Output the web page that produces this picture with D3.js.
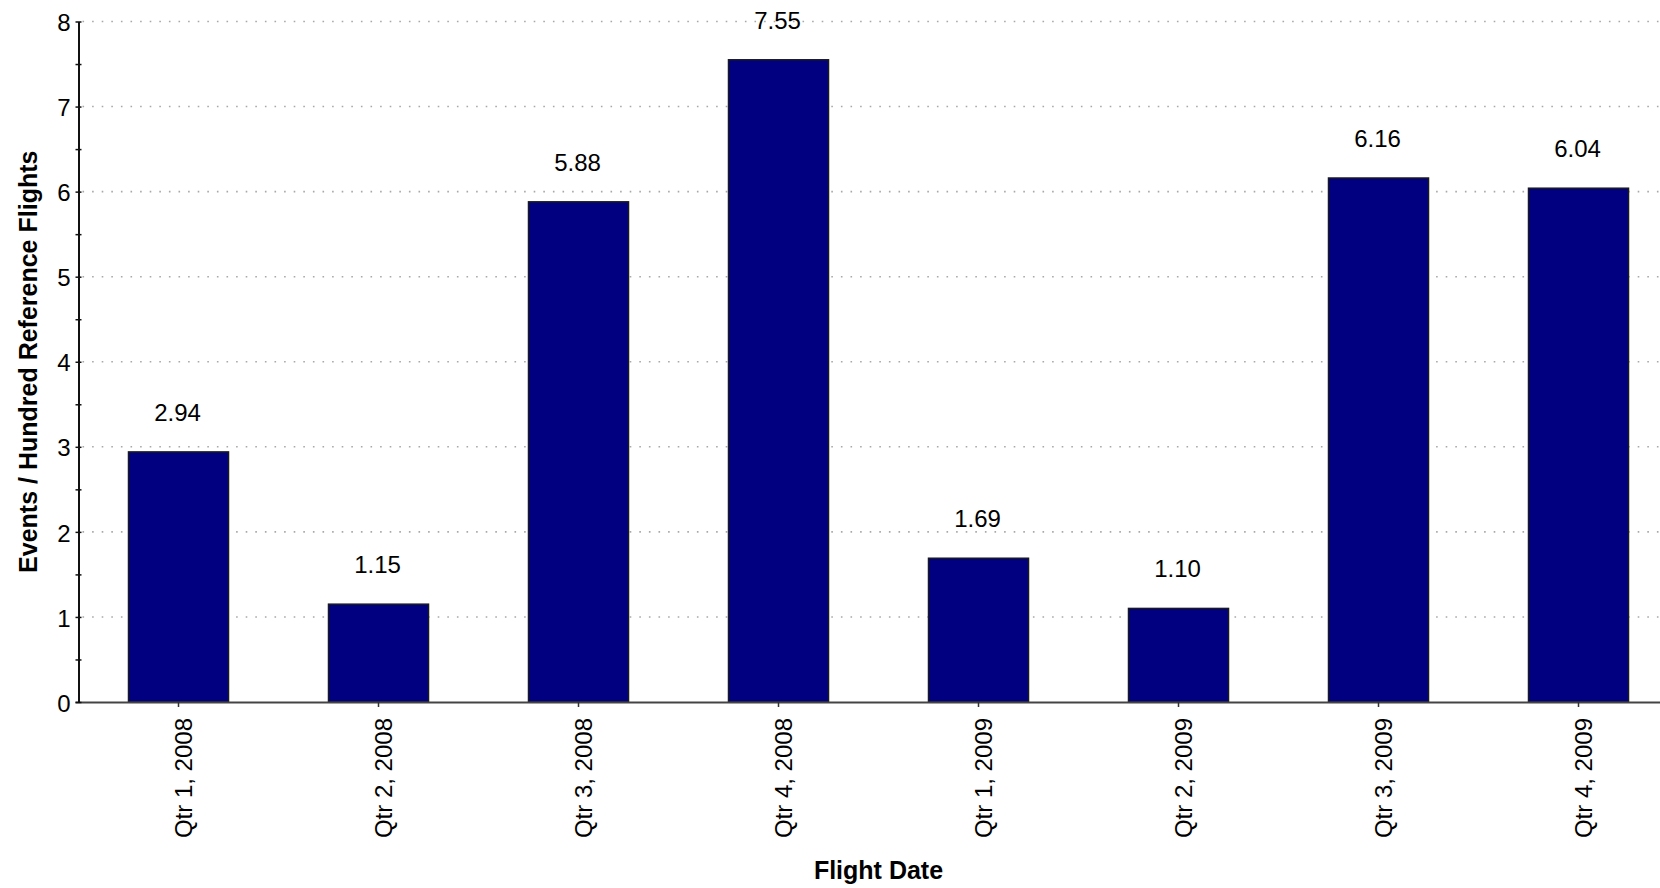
<!DOCTYPE html>
<html>
<head>
<meta charset="utf-8">
<script src="https://cdn.jsdelivr.net/npm/d3@7"></script>
<style>
  html, body { margin: 0; padding: 0; background: #ffffff; }
  svg { display: block; }
  text { font-family: Arial, "Liberation Sans", sans-serif; fill: #000; }
</style>
</head>
<body>
<svg id="chart" width="1660" height="888"></svg>
<script>
// Quarterly event rates
const quarters = ["Qtr 1, 2008", "Qtr 2, 2008", "Qtr 3, 2008", "Qtr 4, 2008",
                  "Qtr 1, 2009", "Qtr 2, 2009", "Qtr 3, 2009", "Qtr 4, 2009"];
const rates = [2.94, 1.15, 5.88, 7.55, 1.69, 1.10, 6.16, 6.04];
const yTicks = [0, 1, 2, 3, 4, 5, 6, 7, 8];
const yMinorTicks = [0.5, 1.5, 2.5, 3.5, 4.5, 5.5, 6.5, 7.5];
const xTitle = "Flight Date";
const yTitle = "Events / Hundred Reference Flights";

(function () {
  const svg = d3.select("#chart");
  const W = 1660;
  const mLeft = 78.5, mTop = 21.5, mBottom = 702;
  const plotRight = mLeft + 200 * quarters.length;

  const x = d3.scaleBand().domain(quarters).range([mLeft, plotRight]).paddingInner(0.5).paddingOuter(0.25);
  const y = d3.scaleLinear().domain([0, 8]).range([mBottom, mTop]);

  // dotted gridlines
  svg.append("g").selectAll("line")
    .data(yTicks.filter(d => d > 0))
    .join("line")
    .attr("x1", mLeft + 4).attr("x2", W)
    .attr("y1", d => y(d)).attr("y2", d => y(d))
    .attr("stroke", "#a8a8a8").attr("stroke-width", 1.6)
    .attr("stroke-dasharray", "1.6,8");

  // bars
  svg.append("g").selectAll("rect")
    .data(rates)
    .join("rect")
    .attr("x", (d, i) => x(quarters[i]))
    .attr("y", d => y(d))
    .attr("width", x.bandwidth())
    .attr("height", d => y(0) - y(d))
    .attr("fill", "#000080")
    .attr("stroke", "#1a1a1a").attr("stroke-width", 1.5);

  // value labels
  svg.append("g").selectAll("text")
    .data(rates)
    .join("text")
    .attr("x", (d, i) => x(quarters[i]) + x.bandwidth() / 2 - 1)
    .attr("y", d => y(d) - 31)
    .attr("text-anchor", "middle")
    .attr("font-size", 24)
    .text(d => d.toFixed(2));

  // x axis
  const xAxis = svg.append("g")
    .attr("transform", `translate(0,${mBottom})`)
    .call(d3.axisBottom(x).tickSizeInner(5).tickSizeOuter(0));
  xAxis.select(".domain").attr("d", `M${mLeft - 3},0.5H${W}`).attr("stroke", "#444").attr("stroke-width", 2);
  xAxis.selectAll(".tick line").attr("stroke", "#333").attr("stroke-width", 1.5);
  xAxis.selectAll(".tick text")
    .attr("font-size", 24)
    .attr("font-family", "Arial, 'Liberation Sans', sans-serif")
    .attr("fill", "#000")
    .attr("text-anchor", "end")
    .attr("x", null).attr("y", null).attr("dy", null)
    .attr("transform", "translate(13,16) rotate(-90)");

  // y axis: major ticks with labels
  const yAxis = svg.append("g")
    .attr("transform", `translate(${mLeft},0)`)
    .call(d3.axisLeft(y).tickValues(yTicks).tickFormat(d3.format("d")).tickSizeInner(3).tickSizeOuter(0).tickPadding(5));
  yAxis.select(".domain").attr("stroke", "#111").attr("stroke-width", 2);
  yAxis.selectAll(".tick line").attr("x1", -3).attr("x2", 3).attr("stroke", "#111").attr("stroke-width", 1.5);
  yAxis.selectAll(".tick text")
    .attr("font-size", 24)
    .attr("font-family", "Arial, 'Liberation Sans', sans-serif")
    .attr("fill", "#000")
    .attr("dy", "0.38em");

  // y axis: minor ticks
  const yMinor = svg.append("g")
    .attr("transform", `translate(${mLeft},0)`)
    .call(d3.axisLeft(y).tickValues(yMinorTicks).tickFormat("").tickSizeInner(3).tickSizeOuter(0));
  yMinor.select(".domain").remove();
  yMinor.selectAll(".tick line").attr("x1", -3).attr("x2", 3).attr("stroke", "#111").attr("stroke-width", 1.5);

  // axis titles
  svg.append("text")
    .attr("x", (mLeft + plotRight) / 2).attr("y", 879)
    .attr("text-anchor", "middle")
    .attr("font-size", 25).attr("font-weight", "bold")
    .text(xTitle);

  svg.append("text")
    .attr("transform", `translate(36.5,${(mTop + mBottom) / 2}) rotate(-90)`)
    .attr("text-anchor", "middle")
    .attr("font-size", 25).attr("font-weight", "bold")
    .text(yTitle);
})();
</script>
</body>
</html>
